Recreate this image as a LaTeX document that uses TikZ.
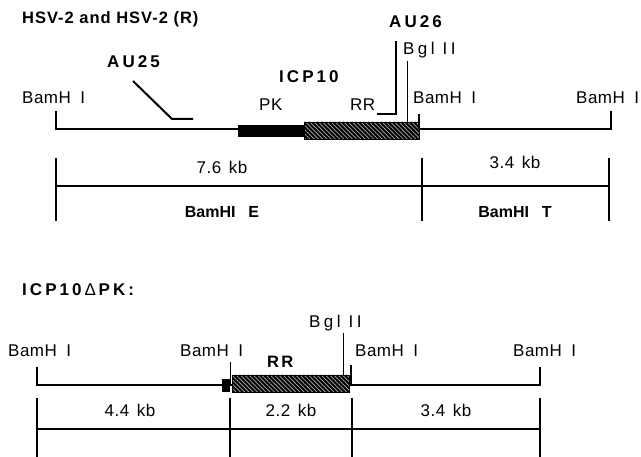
\documentclass[tikz,border=0pt]{standalone}
\usepackage{fontspec}
\setmainfont{Liberation Sans}
\usetikzlibrary{patterns.meta}
\tikzset{
  ln/.style={line width=1.3pt},
  reg/.style={font=\fontsize{17}{19}\selectfont\addfontfeatures{LetterSpace=3}, inner sep=0pt},
  spc/.style={font=\fontsize{17}{19}\selectfont\addfontfeatures{LetterSpace=20}, inner sep=0pt},
  bld/.style={font=\fontsize{17}{19}\selectfont\bfseries\addfontfeatures{LetterSpace=18}, inner sep=0pt},
  ttl/.style={font=\fontsize{16.5}{19}\selectfont\bfseries\addfontfeatures{LetterSpace=6}, inner sep=0pt},
  sbl/.style={font=\fontsize{16}{18}\selectfont\bfseries, inner sep=0pt},
  hatch/.style={preaction={fill=black}, pattern={Lines[angle=-45,distance=3pt,line width=0.7pt]}, pattern color=white!70!black},
  bar/.style={fill=black}
}
\newcommand{\bh}{BamH\hspace{0.55em}I}
\begin{document}
\begin{tikzpicture}[x=1pt,y=-1pt]
\useasboundingbox (0,0) rectangle (641,457);
% ---------- top panel ----------
\node[ttl, anchor=base west] (t1) at (22,24) {HSV-2 and HSV-2 (R)};
\node[bld, anchor=base west] (au25) at (107,68) {AU25};
\node[bld, anchor=base west] (icp) at (279,83) {ICP10};
\node[bld, anchor=base west] (au26) at (389,28) {AU26};
\node[spc, anchor=base west] (bgl1) at (403,55) {Bgl II};
\node[reg, anchor=base west] (b1) at (22,104) {\bh};
\node[reg, anchor=base west] (b2) at (413,104) {\bh};
\node[reg, anchor=base west] (b3) at (576,104) {\bh};
\node[reg, anchor=base west] (pk) at (259,111) {PK};
\node[reg, anchor=base west] (rr1) at (350,111) {RR};
% map line
\coordinate (l0) at (56,111);
\coordinate (l1) at (56,129);
\coordinate (l2) at (611,129);
\coordinate (l3) at (611,111);
\draw[ln] (l0) -- (l1) -- (l2) -- (l3);
\draw[bar] (238,125) rectangle (304,136);
\draw[hatch] (304,122) rectangle (419,139);
\coordinate (bt) at (419,114);
\coordinate (bb) at (419,129);
\draw[ln] (bt) -- (bb);
% Bgl II
\coordinate (g1) at (407,61);
\coordinate (g2) at (407,122);
\draw[line width=1pt] (g1) -- (g2);
% AU25 primer
\coordinate (a1) at (133,81);
\coordinate (a2) at (172,119);
\coordinate (a3) at (193,119);
\draw[line width=2pt] (a1) -- (a2) -- (a3);
% AU26 primer
\coordinate (c1) at (396,41);
\coordinate (c2) at (396,114);
\coordinate (c3) at (377,114);
\draw[line width=2pt] (c1) -- (c2) -- (c3);
% scale
\coordinate (s1t) at (56,158); \coordinate (s1b) at (56,221);
\coordinate (s2t) at (422,158); \coordinate (s2b) at (422,221);
\coordinate (s3t) at (609,158); \coordinate (s3b) at (609,221);
\draw[ln] (s1t) -- (s1b);
\draw[ln] (s2t) -- (s2b);
\draw[ln] (s3t) -- (s3b);
\coordinate (h1) at (56,186); \coordinate (h2) at (609,186);
\draw[ln] (h1) -- (h2);
\node[reg, anchor=base] (k76) at (222,174) {7.6\hspace{0.45em}kb};
\node[reg, anchor=base] (k34a) at (515,169) {3.4\hspace{0.45em}kb};
\node[sbl, anchor=base] (be) at (222,218) {BamHI\hspace{0.8em}E};
\node[sbl, anchor=base] (bt2) at (515,218) {BamHI\hspace{0.8em}T};
% ---------- bottom panel ----------
\node[bld, anchor=base west] (t2) at (22,296) {ICP10{\mdseries\addfontfeatures{LetterSpace=0}\,Δ\,}PK:};
\node[spc, anchor=base west] (bgl2) at (309,328) {Bgl II};
\node[reg, anchor=base west] (d1) at (8,357) {\bh};
\node[reg, anchor=base west] (d2) at (180,357) {\bh};
\node[reg, anchor=base west] (d3) at (355,357) {\bh};
\node[reg, anchor=base west] (d4) at (513,357) {\bh};
\node[bld, anchor=base west, font=\fontsize{16.5}{18}\selectfont\bfseries\addfontfeatures{LetterSpace=14}] (rr2) at (267,368) {RR};
\coordinate (m0) at (37,367);
\coordinate (m1) at (37,385);
\coordinate (m2) at (540,385);
\coordinate (m3) at (540,367);
\draw[ln] (m0) -- (m1) -- (m2) -- (m3);
\draw[bar] (222,379) rectangle (229,391);
\draw[hatch] (232,375) rectangle (349,392);
\coordinate (v1) at (230,362); \coordinate (v2) at (230,385);
\draw[line width=1pt] (v1) -- (v2);
\coordinate (w1) at (343,333); \coordinate (w2) at (343,375);
\draw[line width=1pt] (w1) -- (w2);
\coordinate (u1) at (351,365); \coordinate (u2) at (351,385);
\draw[ln] (u1) -- (u2);
% scale
\coordinate (r1t) at (37,398); \coordinate (r1b) at (37,457);
\coordinate (r2t) at (230,398); \coordinate (r2b) at (230,457);
\coordinate (r3t) at (352,398); \coordinate (r3b) at (352,457);
\coordinate (r4t) at (540,398); \coordinate (r4b) at (540,457);
\draw[ln] (r1t) -- (r1b);
\draw[ln] (r2t) -- (r2b);
\draw[ln] (r3t) -- (r3b);
\draw[ln] (r4t) -- (r4b);
\coordinate (q1) at (37,429); \coordinate (q2) at (540,429);
\draw[ln] (q1) -- (q2);
\node[reg, anchor=base] (k44) at (130,417) {4.4\hspace{0.45em}kb};
\node[reg, anchor=base] (k22) at (291,417) {2.2\hspace{0.45em}kb};
\node[reg, anchor=base] (k34b) at (446,417) {3.4\hspace{0.45em}kb};
\end{tikzpicture}
\end{document}
